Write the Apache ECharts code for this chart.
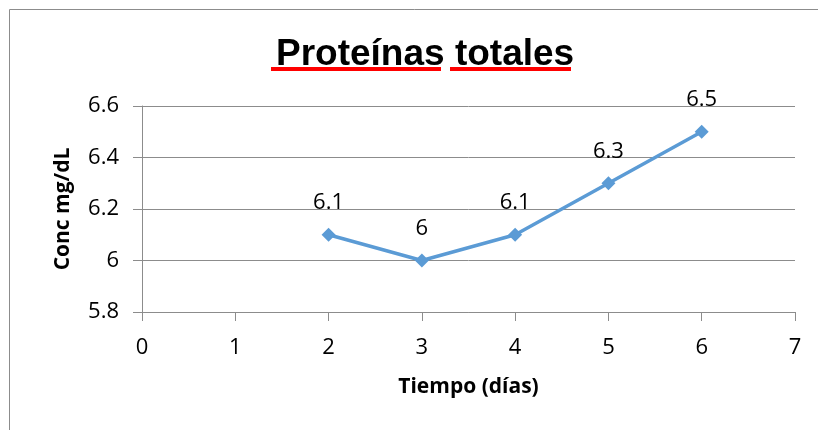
<!DOCTYPE html>
<html>
<head>
<meta charset="utf-8">
<script src="https://cdn.jsdelivr.net/npm/echarts@6/dist/echarts.min.js"></script>
<style>
  html, body { margin: 0; padding: 0; background: #fff; }
  #chart { width: 818px; height: 430px; }
</style>
</head>
<body>
<div id="chart"></div>
<script>
  // dias y concentracion
  var dias = [2, 3, 4, 5, 6];
  var proteinas = [6.1, 6.0, 6.1, 6.3, 6.5];
  var xTicks = { min: 0, max: 7, interval: 1 };
  var yTicks = { min: 5.8, max: 6.6, interval: 0.2 };

  var seriesData = dias.map(function (d, i) { return [d, proteinas[i]]; });

  var chartDom = document.getElementById('chart');
  var myChart = echarts.init(chartDom);
  var gris = '#8c8c8c';
  var fuente = '"Open Sans", sans-serif';

  var option = {
    animation: false,
    title: {
      text: 'Proteínas totales',
      left: 271,
      top: 31,
      textStyle: {
        fontFamily: '"Liberation Sans", Arial, sans-serif',
        fontWeight: 'bold',
        fontSize: 37,
        color: '#000'
      }
    },
    graphic: [
      // marco del area del grafico
      { type: 'rect', shape: { x: 9.5, y: 9.5, width: 840, height: 440 }, style: { fill: null, stroke: gris, lineWidth: 1 } },
      // subrayado rojo bajo el titulo
      { type: 'rect', shape: { x: 271, y: 67, width: 170, height: 4 }, style: { fill: '#ff0000' } },
      { type: 'rect', shape: { x: 450, y: 67, width: 121, height: 4 }, style: { fill: '#ff0000' } }
    ],
    grid: {
      left: 142,
      right: 23,
      top: 106,
      bottom: 118
    },
    xAxis: {
      type: 'value',
      min: xTicks.min,
      max: xTicks.max,
      interval: xTicks.interval,
      name: 'Tiempo (días)',
      nameLocation: 'middle',
      nameGap: 65,
      nameTextStyle: { fontFamily: fuente, fontWeight: 'bold', fontSize: 21, color: '#000' },
      axisLine: { show: true, lineStyle: { color: gris, width: 1 } },
      axisTick: { show: true, length: 9, lineStyle: { color: gris } },
      axisLabel: { margin: 25, fontFamily: fuente, fontSize: 22, color: '#000' },
      splitLine: { show: false }
    },
    yAxis: {
      type: 'value',
      min: yTicks.min,
      max: yTicks.max,
      interval: yTicks.interval,
      name: 'Conc mg/dL',
      nameLocation: 'middle',
      nameRotate: 90,
      nameGap: 68,
      nameTextStyle: { fontFamily: fuente, fontWeight: 'bold', fontSize: 21, color: '#000' },
      axisLine: { show: true, lineStyle: { color: gris, width: 1 } },
      axisTick: { show: true, length: 9, lineStyle: { color: gris } },
      axisLabel: {
        margin: 23,
        fontFamily: fuente,
        fontSize: 22,
        color: '#000',
        formatter: function (v) { return String(Math.round(v * 10) / 10); }
      },
      splitLine: { show: true, lineStyle: { color: gris, width: 1 } }
    },
    series: [
      {
        type: 'line',
        data: seriesData,
        symbol: 'diamond',
        symbolSize: 14,
        itemStyle: { color: '#5B9BD5' },
        lineStyle: { color: '#5B9BD5', width: 3.5 },
        label: {
          show: true,
          position: 'top',
          distance: 14,
          fontFamily: fuente,
          fontSize: 22,
          color: '#000',
          formatter: function (p) { return String(p.value[1]); }
        }
      }
    ]
  };

  option && myChart.setOption(option);
</script>
</body>
</html>
